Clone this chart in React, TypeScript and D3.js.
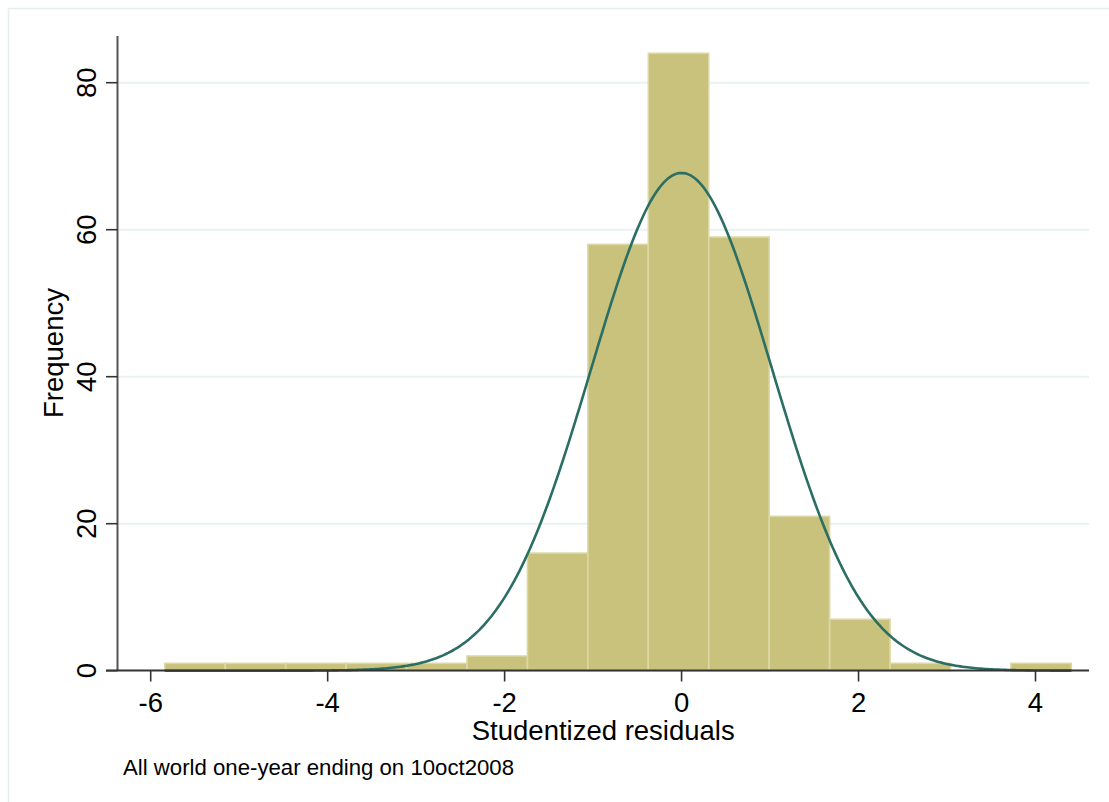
import React from "react";
import * as d3 from "d3";

// Histogram of studentized residuals
const binStart = -5.84;
const binWidth = 0.683;
const binCounts = [1, 1, 1, 1, 1, 2, 16, 58, 84, 59, 21, 7, 1, 0, 1];
const xTicks = [-6, -4, -2, 0, 2, 4];
const yTicks = [0, 20, 40, 60, 80];
// fitted normal density overlay parameters
const fitMean = 0.0;
const fitSd = 1.022;

const W = 1109;
const H = 802;
const FONT = "'Liberation Sans', Arial, Helvetica, sans-serif";

export default function App() {
  const x = d3.scaleLinear().domain([-6, 4]).range([150.7, 1035.5]);
  const y = d3.scaleLinear().domain([0, 80]).range([670.7, 82.7]);
  const plotLeft = 117.5;
  const plotRight = 1089;
  const axisY = 670.5;

  const bins = binCounts.map((c, i) => ({
    x0: binStart + i * binWidth,
    x1: binStart + (i + 1) * binWidth,
    c,
  }));
  const n = d3.sum(binCounts);
  const xMax = binStart + binCounts.length * binWidth;
  const curvePts = d3.range(0, 401).map((i) => {
    const xv = binStart + ((xMax - binStart) * i) / 400;
    const z = (xv - fitMean) / fitSd;
    const dens = Math.exp(-0.5 * z * z) / (fitSd * Math.sqrt(2 * Math.PI));
    return [xv, n * binWidth * dens] as [number, number];
  });
  const line = d3
    .line<[number, number]>()
    .x((d) => x(d[0]))
    .y((d) => y(d[1]))
    .curve(d3.curveLinear);

  return (
    <svg
      width={W}
      height={H}
      style={{ position: "absolute", left: 0, top: 0, background: "#fff" }}
      fontFamily={FONT}
    >
      <rect x={0} y={0} width={W} height={H} fill="#fff" />
      <rect
        x={8.5}
        y={8.5}
        width={W + 20}
        height={H + 20}
        fill="none"
        stroke="#e6eeee"
        strokeWidth={1.5}
      />
      {/* gridlines */}
      {yTicks
        .filter((t) => t > 0)
        .map((t) => (
          <line
            key={"g" + t}
            x1={plotLeft}
            x2={plotRight}
            y1={y(t)}
            y2={y(t)}
            stroke="#e9f1f1"
            strokeWidth={2}
          />
        ))}
      {/* bars */}
      {bins.map((b, i) =>
        b.c > 0 ? (
          <rect
            key={"b" + i}
            x={x(b.x0)}
            y={y(b.c)}
            width={x(b.x1) - x(b.x0)}
            height={y(0) - y(b.c)}
            fill="#c9c27c"
            stroke="#dcd8a6"
            strokeWidth={1.6}
          />
        ) : null
      )}
      {/* normal curve */}
      <path
        d={line(curvePts) || ""}
        fill="none"
        stroke="#2b6e64"
        strokeWidth={2.6}
      />
      {/* axes */}
      <line x1={plotLeft} x2={plotLeft} y1={36} y2={axisY} stroke="#555" strokeWidth={2} />
      <line x1={106} x2={plotRight} y1={axisY} y2={axisY} stroke="#333" strokeWidth={2} />
      {yTicks.map((t) => (
        <g key={"yt" + t}>
          <line x1={106} x2={plotLeft} y1={y(t)} y2={y(t)} stroke="#333" strokeWidth={1.6} />
          <text
            transform={`translate(96,${y(t)}) rotate(-90)`}
            textAnchor="middle"
            fontSize={27.5}
            fill="#000"
          >
            {t}
          </text>
        </g>
      ))}
      {xTicks.map((t) => (
        <g key={"xt" + t}>
          <line x1={x(t)} x2={x(t)} y1={axisY} y2={681.5} stroke="#333" strokeWidth={1.6} />
          <text x={x(t)} y={712} textAnchor="middle" fontSize={27.5} fill="#000">
            {t}
          </text>
        </g>
      ))}
      <text
        x={(plotLeft + plotRight) / 2}
        y={740}
        textAnchor="middle"
        fontSize={27.5}
        fill="#000"
      >
        Studentized residuals
      </text>
      <text
        transform={`translate(63,353) rotate(-90)`}
        textAnchor="middle"
        fontSize={27.5}
        fill="#000"
      >
        Frequency
      </text>
      <text x={123} y={774.5} fontSize={22.2} fill="#000">
        All world one-year ending on 10oct2008
      </text>
    </svg>
  );
}
